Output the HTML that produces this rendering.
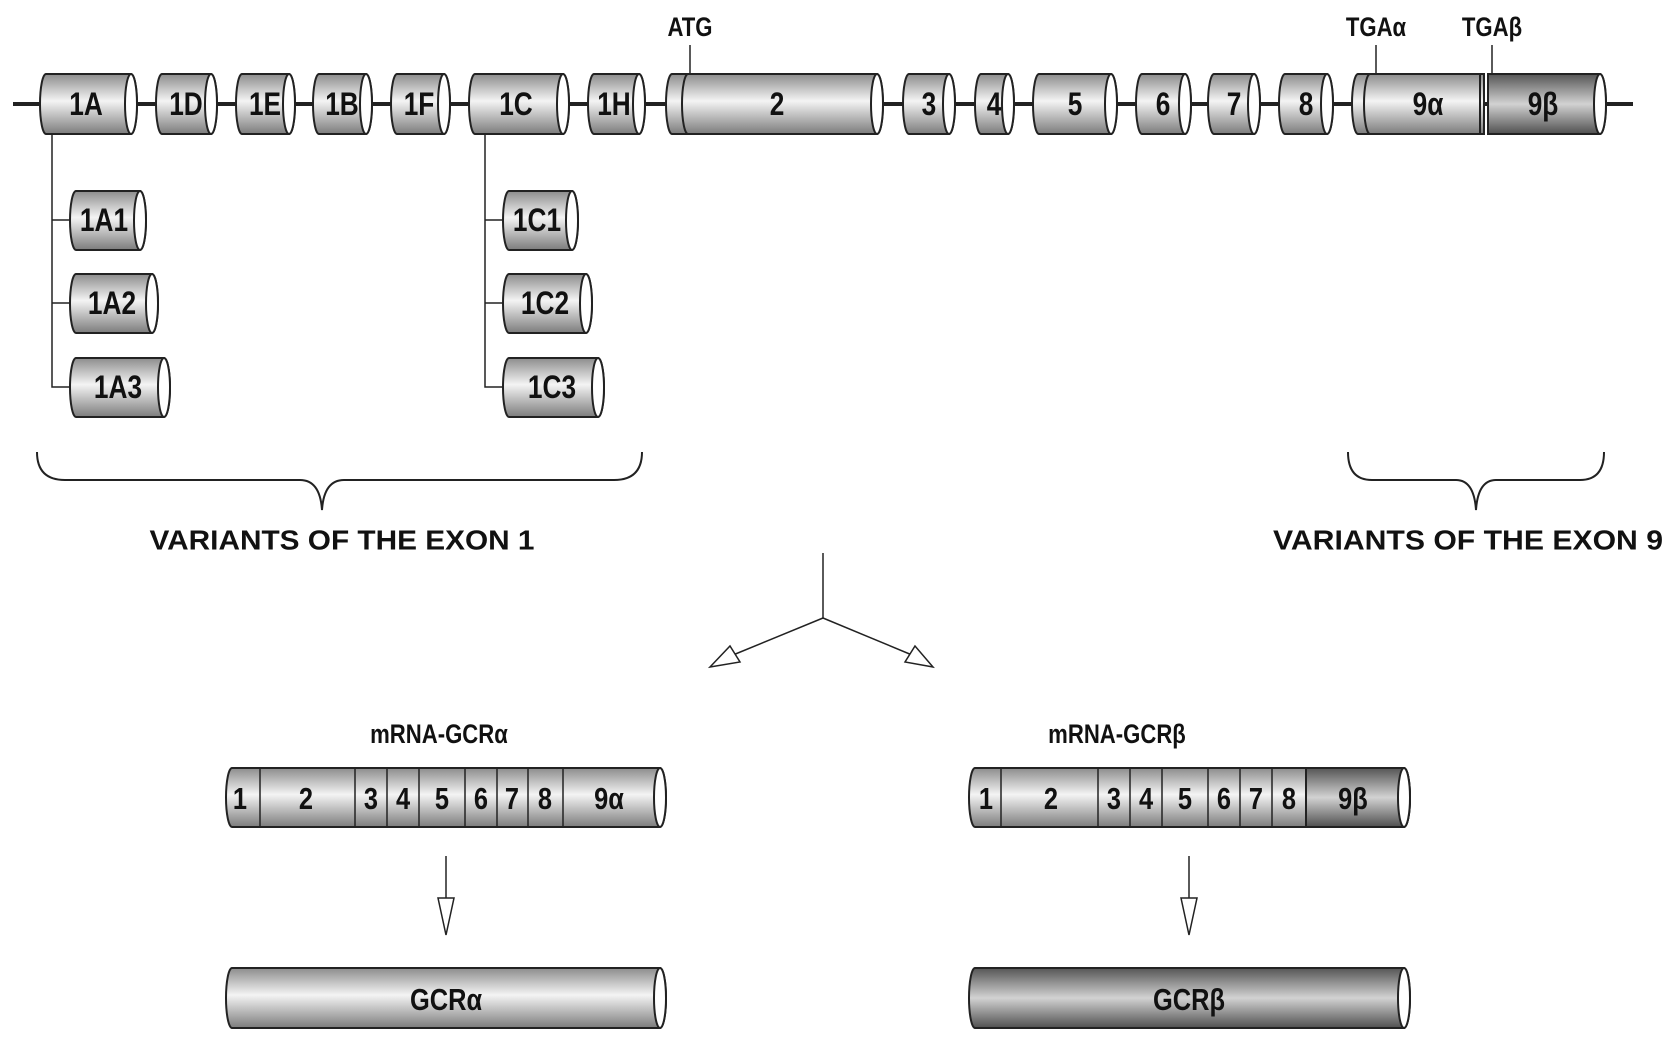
<!DOCTYPE html>
<html><head><meta charset="utf-8"><style>
html,body{margin:0;padding:0;background:#fff;}
svg{display:block;}
text{font-family:"Liberation Sans",Arial,sans-serif;font-weight:bold;fill:#111;}
.c text{transform-box:fill-box;transform-origin:center;transform:scaleX(0.82);}
</style></head><body>
<svg width="1677" height="1044" viewBox="0 0 1677 1044" xmlns="http://www.w3.org/2000/svg">
<defs>
<linearGradient id="g" x1="0" y1="0" x2="0" y2="1">
<stop offset="0" stop-color="#8c8c8c"/><stop offset="0.45" stop-color="#f4f4f4"/><stop offset="1" stop-color="#7c7c7c"/>
</linearGradient>
<linearGradient id="gd" x1="0" y1="0" x2="0" y2="1">
<stop offset="0" stop-color="#555"/><stop offset="0.5" stop-color="#d2d2d2"/><stop offset="1" stop-color="#505050"/>
</linearGradient>
</defs>
<g stroke="#222" stroke-width="2" fill="url(#g)">
<line x1="13" y1="104" x2="1633" y2="104" stroke-width="4"/>
<path d="M46 74H131A6 30 0 0 1 131 134H46A6 30 0 0 1 46 74Z"/><ellipse cx="131" cy="104" rx="6" ry="30" fill="#fff"/>
<path d="M162 74H211A6 30 0 0 1 211 134H162A6 30 0 0 1 162 74Z"/><ellipse cx="211" cy="104" rx="6" ry="30" fill="#fff"/>
<path d="M242 74H289A6 30 0 0 1 289 134H242A6 30 0 0 1 242 74Z"/><ellipse cx="289" cy="104" rx="6" ry="30" fill="#fff"/>
<path d="M319 74H366A6 30 0 0 1 366 134H319A6 30 0 0 1 319 74Z"/><ellipse cx="366" cy="104" rx="6" ry="30" fill="#fff"/>
<path d="M397 74H444A6 30 0 0 1 444 134H397A6 30 0 0 1 397 74Z"/><ellipse cx="444" cy="104" rx="6" ry="30" fill="#fff"/>
<path d="M475 74H563A6 30 0 0 1 563 134H475A6 30 0 0 1 475 74Z"/><ellipse cx="563" cy="104" rx="6" ry="30" fill="#fff"/>
<path d="M594 74H639A6 30 0 0 1 639 134H594A6 30 0 0 1 594 74Z"/><ellipse cx="639" cy="104" rx="6" ry="30" fill="#fff"/>
<path d="M672 74H877A6 30 0 0 1 877 134H672A6 30 0 0 1 672 74Z"/><ellipse cx="877" cy="104" rx="6" ry="30" fill="#fff"/>
<path d="M688 74A6 30 0 0 0 688 134" fill="none"/>
<path d="M909 74H949A6 30 0 0 1 949 134H909A6 30 0 0 1 909 74Z"/><ellipse cx="949" cy="104" rx="6" ry="30" fill="#fff"/>
<path d="M981 74H1008A6 30 0 0 1 1008 134H981A6 30 0 0 1 981 74Z"/><ellipse cx="1008" cy="104" rx="6" ry="30" fill="#fff"/>
<path d="M1039 74H1111A6 30 0 0 1 1111 134H1039A6 30 0 0 1 1039 74Z"/><ellipse cx="1111" cy="104" rx="6" ry="30" fill="#fff"/>
<path d="M1142 74H1185A6 30 0 0 1 1185 134H1142A6 30 0 0 1 1142 74Z"/><ellipse cx="1185" cy="104" rx="6" ry="30" fill="#fff"/>
<path d="M1214 74H1254A6 30 0 0 1 1254 134H1214A6 30 0 0 1 1214 74Z"/><ellipse cx="1254" cy="104" rx="6" ry="30" fill="#fff"/>
<path d="M1285 74H1327A6 30 0 0 1 1327 134H1285A6 30 0 0 1 1285 74Z"/><ellipse cx="1327" cy="104" rx="6" ry="30" fill="#fff"/>
<path d="M1358 74H1484V134H1358A6 30 0 0 1 1358 74Z"/>
<path d="M1488 74H1600A6 30 0 0 1 1600 134H1488Z" fill="url(#gd)"/>
<ellipse cx="1600" cy="104" rx="6" ry="30" fill="#fff"/>
<path d="M1370 74A6 30 0 0 0 1370 134" fill="none"/>
<line x1="1480" y1="74" x2="1480" y2="134"/><line x1="1488" y1="74" x2="1488" y2="134"/>
<line x1="690" y1="45" x2="690" y2="74" stroke-width="1.5"/>
<line x1="1376" y1="45" x2="1376" y2="74" stroke-width="1.5"/>
<line x1="1492" y1="45" x2="1492" y2="74" stroke-width="1.5"/>
<polyline points="52,134 52,387 70,387" fill="none" stroke-width="1.5"/>
<line x1="52" y1="220" x2="70" y2="220" stroke-width="1.5"/><line x1="52" y1="303" x2="70" y2="303" stroke-width="1.5"/>
<polyline points="485,134 485,387 503,387" fill="none" stroke-width="1.5"/>
<line x1="485" y1="220" x2="503" y2="220" stroke-width="1.5"/><line x1="485" y1="303" x2="503" y2="303" stroke-width="1.5"/>
<path d="M76 191H140A6 29.5 0 0 1 140 250H76A6 29.5 0 0 1 76 191Z"/><ellipse cx="140" cy="220.5" rx="6" ry="29.5" fill="#fff"/>
<path d="M76 274H152A6 29.5 0 0 1 152 333H76A6 29.5 0 0 1 76 274Z"/><ellipse cx="152" cy="303.5" rx="6" ry="29.5" fill="#fff"/>
<path d="M76 358H164A6 29.5 0 0 1 164 417H76A6 29.5 0 0 1 76 358Z"/><ellipse cx="164" cy="387.5" rx="6" ry="29.5" fill="#fff"/>
<path d="M509 191H572A6 29.5 0 0 1 572 250H509A6 29.5 0 0 1 509 191Z"/><ellipse cx="572" cy="220.5" rx="6" ry="29.5" fill="#fff"/>
<path d="M509 274H586A6 29.5 0 0 1 586 333H509A6 29.5 0 0 1 509 274Z"/><ellipse cx="586" cy="303.5" rx="6" ry="29.5" fill="#fff"/>
<path d="M509 358H598A6 29.5 0 0 1 598 417H509A6 29.5 0 0 1 509 358Z"/><ellipse cx="598" cy="387.5" rx="6" ry="29.5" fill="#fff"/>
<path d="M37 452Q37 480 65 480H300Q320 480 322 510Q324 480 344 480H614Q642 480 642 452" fill="none" stroke-width="2"/>
<path d="M1348 452Q1348 480 1372 480H1456Q1474 480 1476 510Q1478 480 1496 480H1580Q1604 480 1604 452" fill="none" stroke-width="2"/>
<line x1="823" y1="553" x2="823" y2="618" stroke-width="1.5"/>
<line x1="823" y1="618" x2="733" y2="655" stroke-width="1.5"/>
<line x1="823" y1="618" x2="912" y2="655" stroke-width="1.5"/>
<polygon points="710,667 730,646 740,662" fill="#fff" stroke-width="1.5"/>
<polygon points="933,667 905,662 915,646" fill="#fff" stroke-width="1.5"/>
<path d="M232 768H660A6 29.5 0 0 1 660 827H232A6 29.5 0 0 1 232 768Z"/>
<ellipse cx="660" cy="797.5" rx="6" ry="29.5" fill="#fff"/>
<g fill="none" stroke-width="1.5">
<line x1="260" y1="768" x2="260" y2="827"/><line x1="355" y1="768" x2="355" y2="827"/><line x1="387" y1="768" x2="387" y2="827"/><line x1="419" y1="768" x2="419" y2="827"/><line x1="465" y1="768" x2="465" y2="827"/><line x1="497" y1="768" x2="497" y2="827"/><line x1="528" y1="768" x2="528" y2="827"/><line x1="563" y1="768" x2="563" y2="827"/>
</g>
<path d="M975 768H1404A6 29.5 0 0 1 1404 827H975A6 29.5 0 0 1 975 768Z"/>
<path d="M1306 768H1404A6 29.5 0 0 1 1404 827H1306Z" fill="url(#gd)"/>
<ellipse cx="1404" cy="797.5" rx="6" ry="29.5" fill="#fff"/>
<g fill="none" stroke-width="1.5">
<line x1="1001" y1="768" x2="1001" y2="827"/><line x1="1098" y1="768" x2="1098" y2="827"/><line x1="1130" y1="768" x2="1130" y2="827"/><line x1="1162" y1="768" x2="1162" y2="827"/><line x1="1208" y1="768" x2="1208" y2="827"/><line x1="1240" y1="768" x2="1240" y2="827"/><line x1="1272" y1="768" x2="1272" y2="827"/><line x1="1306" y1="768" x2="1306" y2="827"/>
</g>
<line x1="446" y1="856" x2="446" y2="898" stroke-width="1.5"/>
<polygon points="438,898 454,898 446,935" fill="#fff" stroke-width="1.5"/>
<line x1="1189" y1="856" x2="1189" y2="898" stroke-width="1.5"/>
<polygon points="1181,898 1197,898 1189,935" fill="#fff" stroke-width="1.5"/>
<path d="M232 968H660A6 30 0 0 1 660 1028H232A6 30 0 0 1 232 968Z"/><ellipse cx="660" cy="998" rx="6" ry="30" fill="#fff"/>
<path d="M975 968H1404A6 30 0 0 1 1404 1028H975A6 30 0 0 1 975 968Z" fill="url(#gd)"/><ellipse cx="1404" cy="998" rx="6" ry="30" fill="#fff"/>
</g>
<g class="c" font-size="32" text-anchor="middle" dominant-baseline="central">
<text x="86" y="105">1A</text><text x="186" y="105">1D</text><text x="265" y="105">1E</text><text x="342" y="105">1B</text><text x="419" y="105">1F</text><text x="516" y="105">1C</text><text x="614" y="105">1H</text>
<text x="777" y="105">2</text><text x="929" y="105">3</text><text x="994" y="105">4</text><text x="1075" y="105">5</text><text x="1163" y="105">6</text><text x="1234" y="105">7</text><text x="1306" y="105">8</text>
<text x="1428" y="105">9α</text><text x="1543" y="105">9β</text>
<text x="104" y="221">1A1</text><text x="112" y="304">1A2</text><text x="118" y="388">1A3</text>
<text x="537" y="221">1C1</text><text x="545" y="304">1C2</text><text x="552" y="388">1C3</text>
</g>
<g class="c" font-size="27" text-anchor="middle" dominant-baseline="central">
<text x="690" y="28">ATG</text><text x="1376" y="28">TGAα</text><text x="1492" y="28">TGAβ</text>
<text x="439" y="735">mRNA-GCRα</text><text x="1117" y="735">mRNA-GCRβ</text>
</g>
<g font-size="28" text-anchor="middle" dominant-baseline="central">
<text x="342" y="540" textLength="385" lengthAdjust="spacingAndGlyphs">VARIANTS OF THE EXON 1</text>
<text x="1468" y="540" textLength="390" lengthAdjust="spacingAndGlyphs">VARIANTS OF THE EXON 9</text>
</g>
<g class="c" font-size="31" text-anchor="middle" dominant-baseline="central">
<text x="240" y="799">1</text><text x="306" y="799">2</text><text x="371" y="799">3</text><text x="403" y="799">4</text><text x="442" y="799">5</text><text x="481" y="799">6</text><text x="512" y="799">7</text><text x="545" y="799">8</text><text x="609" y="799">9α</text>
<text x="986" y="799">1</text><text x="1051" y="799">2</text><text x="1114" y="799">3</text><text x="1146" y="799">4</text><text x="1185" y="799">5</text><text x="1224" y="799">6</text><text x="1256" y="799">7</text><text x="1289" y="799">8</text><text x="1353" y="799">9β</text>
<text x="446" y="1000">GCRα</text><text x="1189" y="1000">GCRβ</text>
</g>
</svg>
</body></html>
